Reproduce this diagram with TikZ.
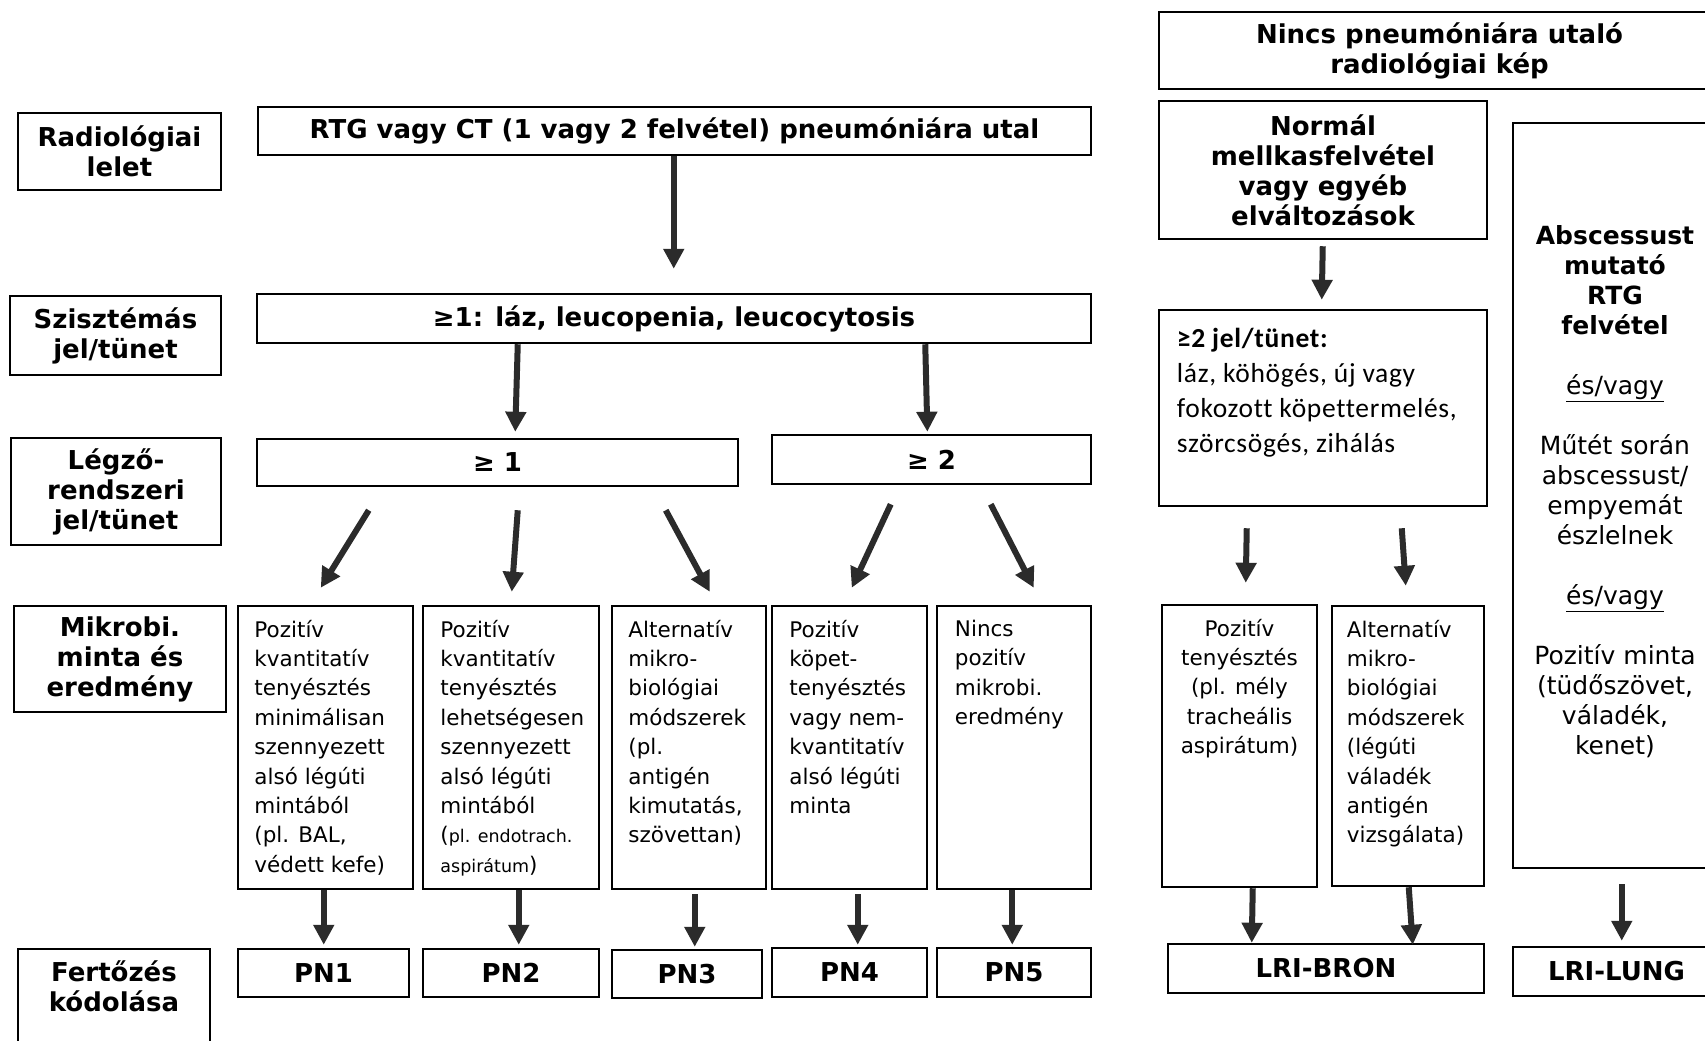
\documentclass[tikz,border=0pt]{standalone}
\usepackage{fontspec}
\setmainfont{DejaVu Sans}
\newfontfamily\clb[LetterSpace=2.5,Ligatures=NoCommon]{Carlito}
\usetikzlibrary{arrows.meta,calc}
\definecolor{arrc}{HTML}{2B2B2B}
\tikzset{
  bx/.style={draw, line width=2.5pt, inner sep=0pt},
  hd/.style={font=\bfseries\fontsize{26}{30}\selectfont, align=center},
  sm/.style={font=\fontsize{21.5}{29.4}\selectfont, align=left, anchor=north west, inner sep=0pt},
  smc/.style={font=\fontsize{21.5}{29.4}\selectfont, align=center, anchor=north, inner sep=0pt},
  arr/.style={line width=6pt, draw=arrc, -{Triangle[length=20pt,width=20pt]}},
}
\newcommand\bxn[7][]{\node[bx,#1,minimum width=#5pt-#3pt,minimum height=#6pt-#4pt] (#2) at ({(#3+#5)/2},{(#4+#6)/2}) {#7};}
\newcommand\arw[6]{\draw[arr] ($(#1.south west)+(#2,#3)$) -- ($(#4.north west)+(#5,#6)$);}
\begin{document}
\begin{tikzpicture}[x=1pt,y=-1pt]
\useasboundingbox (0,0) rectangle (1705,1041);
\clip (0,0) rectangle (1705,1041);
% left labels
\bxn[hd]{lab1}{18}{113}{221}{190}{Radiológiai\\lelet}
\bxn[hd]{lab2}{10}{296}{221}{375}{Szisztémás\\jel/tünet}
\bxn[hd]{lab3}{11}{438}{221}{545}{Légző-\\rendszeri\\jel/tünet}
\bxn[hd]{lab4}{14}{606}{226}{712}{Mikrobi.\\minta és\\eredmény}
\bxn{lab5}{18}{949}{210}{1075}{}
\node[hd] (lab5t) at (114,986) {Fertőzés\\kódolása};
% pneumonia branch
\bxn[hd]{rtg}{258}{107}{1091}{155}{RTG vagy CT (1 vagy 2 felvétel) pneumóniára utal}
\bxn[hd]{sys}{257}{294}{1091}{343}{≥1: láz, leucopenia, leucocytosis}
\bxn[hd]{ge1}{257}{439}{738}{486}{≥ 1}
\bxn[hd]{ge2}{772}{435}{1091}{484}{≥ 2}
\bxn{m1}{238}{606}{413}{889}{}
\bxn{m2}{423}{606}{599}{889}{}
\bxn{m3}{612}{606}{766}{889}{}
\bxn{m4}{772}{606}{927}{889}{}
\bxn{m5}{937}{606}{1091}{889}{}
\node[sm] (t1) at ($(m1.north west)+(17.5,15)$) {Pozitív\\kvantitatív\\tenyésztés\\minimálisan\\szennyezett\\alsó légúti\\mintából\\(pl. BAL,\\védett kefe)};
\node[sm] (t2) at ($(m2.north west)+(18.5,15)$) {Pozitív\\kvantitatív\\tenyésztés\\lehetségesen\\szennyezett\\alsó légúti\\mintából\\({\fontsize{17.5}{29.4}\selectfont pl. endotrach.}\\{\fontsize{17.5}{29.4}\selectfont aspirátum})};
\node[sm] (t3) at ($(m3.north west)+(17.5,15)$) {Alternatív\\mikro-\\biológiai\\módszerek\\(pl.\\antigén\\kimutatás,\\szövettan)};
\node[sm] (t4) at ($(m4.north west)+(18.5,15)$) {Pozitív\\köpet-\\tenyésztés\\vagy nem-\\kvantitatív\\alsó légúti\\minta};
\node[sm] (t5) at ($(m5.north west)+(19,15)$) {Nincs\\pozitív\\mikrobi.\\eredmény};
\bxn[hd]{pn1}{238}{949}{409}{997}{PN1}
\bxn[hd]{pn2}{423}{949}{599}{997}{PN2}
\bxn[hd]{pn3}{612}{950}{762}{998}{PN3}
\bxn[hd]{pn4}{772}{948}{927}{997}{PN4}
\bxn[hd]{pn5}{937}{948}{1091}{997}{PN5}
% right side
\bxn[hd]{nincs}{1159}{12}{1720}{89}{Nincs pneumóniára utaló\\radiológiai kép}
\bxn[hd]{norm}{1159}{101}{1487}{239}{Normál\\mellkasfelvétel\\vagy egyéb\\elváltozások}
\bxn{jel}{1159}{310}{1487}{506}{}
\node[anchor=north west, inner sep=0pt, align=left, font=\clb\fontsize{27.5}{35}\selectfont] (jelt) at ($(jel.north west)+(19,19)$) {\textbf{≥2 jel/tünet:}\\láz, köhögés, új vagy\\fokozott köpettermelés,\\szörcsögés, zihálás};
\bxn{absc}{1513}{123}{1720}{868}{}
\node[anchor=north, inner sep=0pt, align=center, font=\fontsize{25}{30}\selectfont] (absct) at (1615,225) {\textbf{Abscessust}\\\textbf{mutató}\\\textbf{RTG}\\\textbf{felvétel}\\[30pt]\underline{és/vagy}\\[30pt]Műtét során\\abscessust/\\empyemát\\észlelnek\\[30pt]\underline{és/vagy}\\[30pt]Pozitív minta\\(tüdőszövet,\\váladék,\\kenet)};
\bxn{rb1}{1162}{605}{1317}{887}{}
\bxn{rb2}{1332}{606}{1484}{886}{}
\node[smc] (rt1) at ($(rb1.north)+(0,15)$) {Pozitív\\tenyésztés\\(pl. mély\\tracheális\\aspirátum)};
\node[sm] (rt2) at ($(rb2.north west)+(16,15)$) {Alternatív\\mikro-\\biológiai\\módszerek\\(légúti\\váladék\\antigén\\vizsgálata)};
\bxn[hd]{bron}{1168}{944}{1484}{993}{LRI-BRON}
\bxn[hd]{lung}{1513}{947}{1720}{996}{LRI-LUNG}
% arrows
\arw{rtg}{417}{0}{sys}{418}{-24}
\arw{sys}{262}{0}{ge1}{259.5}{-6}
\arw{sys}{669.5}{0}{ge2}{156.6}{-2}
\arw{ge1}{113}{23}{m1}{84}{-17}
\arw{ge1}{262}{23}{m2}{90}{-13}
\arw{ge1}{410}{23}{m3}{99}{-13}
\arw{ge2}{120}{19}{m4}{81}{-17}
\arw{ge2}{220}{19}{m5}{98}{-17}
\arw{m1}{87}{0}{pn1}{87}{-3}
\arw{m2}{97}{0}{pn2}{97}{-3}
\arw{m3}{84}{4}{pn3}{84}{-2}
\arw{m4}{87}{4}{pn4}{87}{-2}
\arw{m5}{76.5}{0}{pn5}{76.5}{-2}
\arw{norm}{165}{6}{jel}{164}{-9}
\arw{jel}{89}{21}{rb1}{85}{-21}
\arw{jel}{244}{21}{rb2}{75}{-19}
\arw{rb1}{92}{0}{bron}{85}{0}
\arw{rb2}{78}{0}{bron}{246}{2}
\arw{absc}{110}{15}{lung}{110}{-5}
\end{tikzpicture}
\end{document}
